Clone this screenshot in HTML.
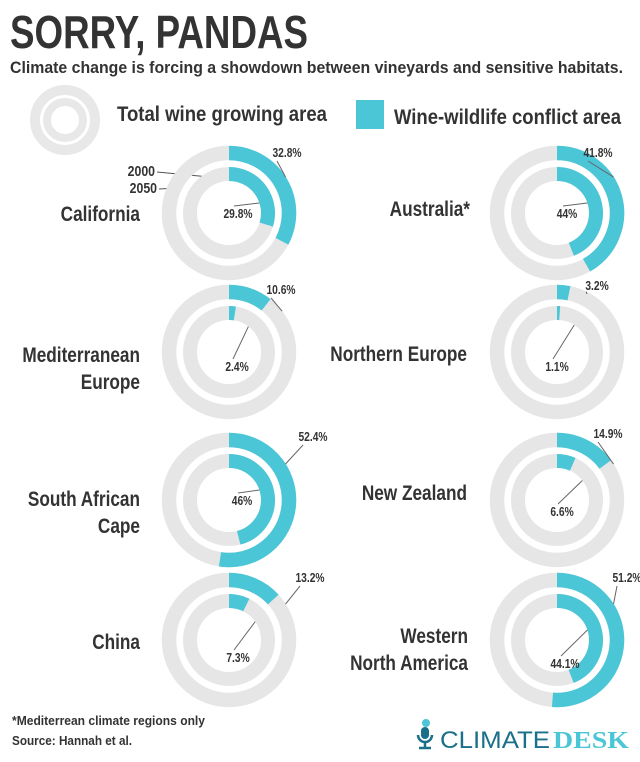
<!DOCTYPE html>
<html><head><meta charset="utf-8"><style>
body{margin:0;background:#fff;width:640px;height:757px;overflow:hidden}
svg text{font-family:"Liberation Sans",sans-serif;font-weight:bold;fill:#333}
</style></head><body>
<svg id="s" width="640" height="757" xmlns="http://www.w3.org/2000/svg">
<text x="10" y="48" font-size="46" textLength="298" lengthAdjust="spacingAndGlyphs">SORRY, PANDAS</text>
<text x="10" y="73" font-size="17" textLength="613" lengthAdjust="spacingAndGlyphs">Climate change is forcing a showdown between vineyards and sensitive habitats.</text>
<circle cx="65" cy="120" r="30" fill="none" stroke="#e8e8e8" stroke-width="10"/>
<circle cx="65" cy="120" r="18" fill="none" stroke="#e8e8e8" stroke-width="8"/>
<text x="117" y="121" font-size="21" textLength="210" lengthAdjust="spacingAndGlyphs">Total wine growing area</text>
<rect x="356" y="100" width="28" height="29" fill="#4bc6d6"/>
<text x="394" y="124" font-size="21" textLength="227" lengthAdjust="spacingAndGlyphs">Wine-wildlife conflict area</text>
<line x1="157" y1="172" x2="220" y2="178" stroke="#555" stroke-width="1"/>
<line x1="159" y1="189" x2="177" y2="188" stroke="#555" stroke-width="1"/>
<text class="sc" x="155" y="176" font-size="15" text-anchor="end">2000</text>
<text class="sc" x="157" y="193" font-size="15" text-anchor="end">2050</text>
<text x="12" y="725" font-size="13" textLength="193" lengthAdjust="spacingAndGlyphs">*Mediterrean climate regions only</text>
<text x="12" y="745" font-size="13" textLength="120" lengthAdjust="spacingAndGlyphs">Source: Hannah et al.</text>
<g transform="translate(414,725)">
<path d="M4 10 a7 7 0 0 0 14 0" fill="none" stroke="#1a6f8a" stroke-width="2.5"/>
<rect x="7" y="2" width="8" height="12" rx="4" fill="#1a6f8a"/>
<line x1="11" y1="17" x2="11" y2="22" stroke="#1a6f8a" stroke-width="2.5"/>
<line x1="5" y1="23" x2="17" y2="23" stroke="#1a6f8a" stroke-width="2.5"/>
<circle cx="12" cy="-2" r="4" fill="#4bc6d6"/>
</g>
<text x="440" y="748" font-size="24" textLength="110" lengthAdjust="spacingAndGlyphs" style="font-weight:normal;fill:#1a6f8a">CLIMATE</text>
<text x="553" y="748" font-size="24" textLength="76" lengthAdjust="spacingAndGlyphs" style="font-family:'Liberation Serif',serif;font-weight:bold;fill:#4bc6d6">DESK</text>
</svg>
<script>
var s=document.getElementById('s'),NS='http://www.w3.org/2000/svg';
function el(t,a,txt){var e=document.createElementNS(NS,t);for(var k in a)e.setAttribute(k,a[k]);if(txt){e.textContent=txt;e.setAttribute('class','sc')}s.appendChild(e);return e}
function arc(cx,cy,r,p,w){
 if(p>=99.9){el('circle',{cx:cx,cy:cy,r:r,fill:'none',stroke:'#4bc6d6','stroke-width':w});return}
 var a=p/100*2*Math.PI,x=cx+r*Math.sin(a),y=cy-r*Math.cos(a);
 el('path',{d:'M'+cx+' '+(cy-r)+' A'+r+' '+r+' 0 '+(p>50?1:0)+' 1 '+x+' '+y,fill:'none',stroke:'#4bc6d6','stroke-width':w});
}
var C=[
[229,213,32.8,29.8,[287,157],[238,218],['California'],140,221],
[557,213,41.8,44,[598,157],[567,218],['Australia*'],470,216],
[229,352,10.6,2.4,[281,294],[237,371],['Mediterranean','Europe'],140,362],
[557,352,3.2,1.1,[597,290],[557,371],['Northern Europe'],467,361],
[229,500,52.4,46,[313,441],[242,505],['South African','Cape'],140,506],
[557,500,14.9,6.6,[608,438],[562,516],['New Zealand'],467,500],
[229,640,13.2,7.3,[310,582],[238,662],['China'],140,649],
[557,640,51.2,44.1,[627,582],[565,668],['Western','North America'],468,643]
];
C.forEach(function(c){
 var cx=c[0],cy=c[1];
 el('circle',{cx:cx,cy:cy,r:60,fill:'none',stroke:'#e6e6e6','stroke-width':14.5});
 el('circle',{cx:cx,cy:cy,r:39,fill:'none',stroke:'#e6e6e6','stroke-width':14});
 arc(cx,cy,60,c[2],14.5);arc(cx,cy,39,c[3],14);
 var a=Math.min(c[2],12)/100*2*Math.PI;
 var px=cx+67*Math.sin(a+0.25),py=cy-67*Math.cos(a+0.25);
 el('line',{x1:c[4][0]-10,y1:c[4][1]+4,x2:px,y2:py,stroke:'#666','stroke-width':1});
 el('text',{x:c[4][0],y:c[4][1],'font-size':12.5,'text-anchor':'middle'},c[2]+'%');
 var b=Math.min(c[3],12)/100*2*Math.PI,qx=cx+32*Math.sin(b+0.5),qy=cy-32*Math.cos(b+0.5);
 el('line',{x1:c[5][0]-4,y1:c[5][1]-12,x2:qx,y2:qy,stroke:'#666','stroke-width':1});
 el('text',{x:c[5][0],y:c[5][1],'font-size':12.5,'text-anchor':'middle'},c[3]+'%');
 c[6].forEach(function(t,i){el('text',{x:c[7],y:c[8]+i*27,'font-size':21,'text-anchor':'end'},t)});
});
Array.prototype.forEach.call(document.querySelectorAll('text.sc'),function(t){
 var x=t.getAttribute('x'),y=t.getAttribute('y');
 t.setAttribute('x',0);t.setAttribute('y',0);
 t.setAttribute('transform','translate('+x+','+y+') scale(0.82,1)');
});
</script>
</body></html>
